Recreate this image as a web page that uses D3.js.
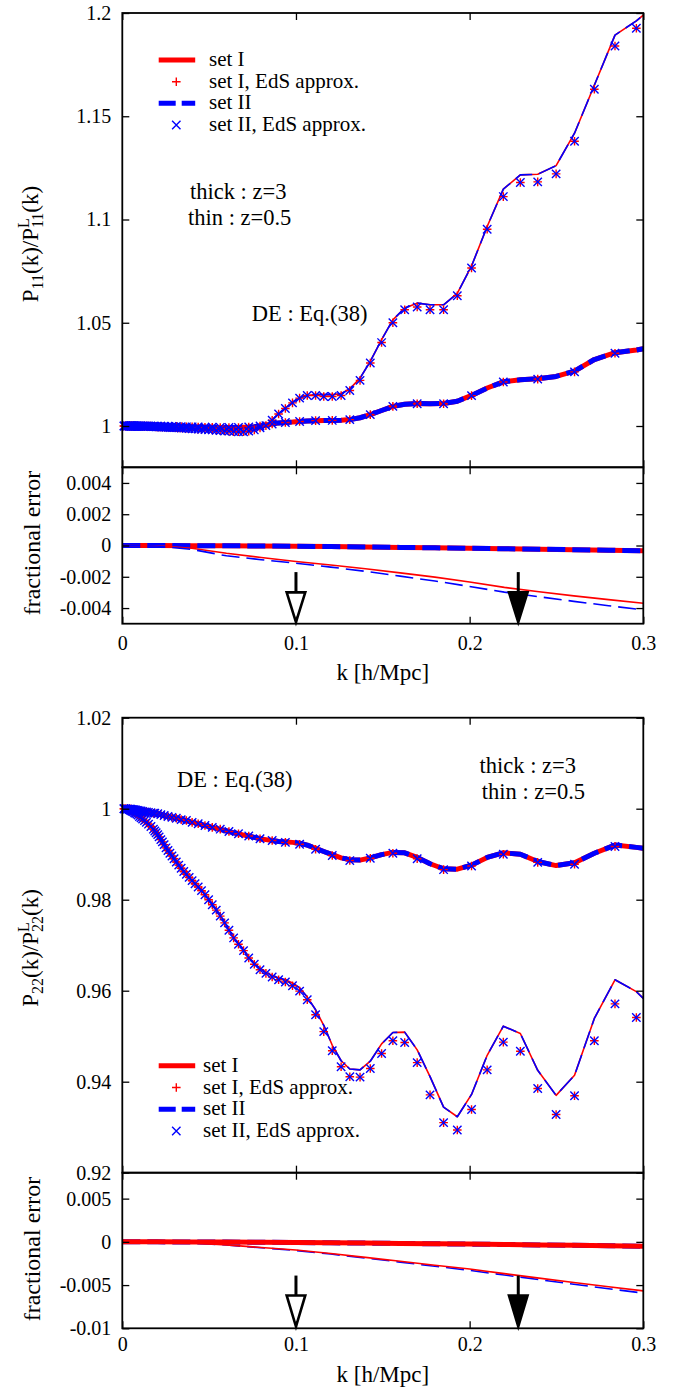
<!DOCTYPE html>
<html>
<head>
<meta charset="utf-8">
<script src="https://cdn.jsdelivr.net/npm/d3@7"></script>
<style>
  body { margin: 0; background: #fff; }
  svg { display: block; }
  svg text { font-family: "Liberation Serif", "Times New Roman", Times, "DejaVu Serif", serif !important; }
</style>
</head>
<body>
<svg id="chart" width="673" height="1391"></svg>
<script>
// ---------------------------------------------------------------
// Wavenumber grid k [h/Mpc] shared by all ratio curves and markers
// ---------------------------------------------------------------
const kGrid = [
  0.0010, 0.0020, 0.0030,
  0.0040, 0.0045, 0.0050, 0.0055, 0.0060, 0.0065, 0.0071, 0.0077, 0.0084, 0.0091,
  0.0099, 0.0108, 0.0117, 0.0128, 0.0139, 0.0151, 0.0165, 0.0179, 0.0187, 0.0195,
  0.0204, 0.0212, 0.0222, 0.0231, 0.0241, 0.0252, 0.0263, 0.0274, 0.0286, 0.0298,
  0.0311, 0.0325, 0.0339, 0.0354, 0.0369, 0.0385, 0.0402, 0.0419, 0.0437, 0.0456,
  0.0476, 0.0497, 0.0518, 0.0541, 0.0564, 0.0589, 0.0614, 0.0641, 0.0669, 0.0698,
  0.0728, 0.0760, 0.0793, 0.0827, 0.0863, 0.0900, 0.0939, 0.0980, 0.1021, 0.1065,
  0.1113, 0.1160, 0.1209, 0.1260, 0.1310, 0.1369, 0.1428, 0.1493, 0.1558, 0.1626,
  0.1698, 0.1772, 0.1850, 0.1929, 0.2011, 0.2101, 0.2194, 0.2292, 0.2392, 0.2498,
  0.2604, 0.2718, 0.2837, 0.2960, 0.3000
];

// P11(k)/P11^L(k), z = 3 (thick)
const p11Z3SetI = [
  1.0000, 1.0000, 1.0000,
  1.0000, 1.0000, 1.0000, 1.0000, 1.0000, 1.0000, 1.0000, 1.0000, 1.0000, 1.0000,
  1.0000, 1.0000, 1.0000, 1.0000, 1.0000, 1.0000, 1.0000, 0.9999, 0.9999, 0.9999,
  0.9999, 0.9999, 0.9999, 0.9999, 0.9999, 0.9999, 0.9999, 0.9999, 0.9998, 0.9998,
  0.9998, 0.9997, 0.9997, 0.9997, 0.9996, 0.9996, 0.9996, 0.9995, 0.9995, 0.9995,
  0.9994, 0.9994, 0.9994, 0.9993, 0.9993, 0.9993, 0.9993, 0.9993, 0.9993, 0.9994,
  0.9995, 0.9997, 1.0000, 1.0005, 1.0010, 1.0015, 1.0017, 1.0019, 1.0022, 1.0024,
  1.0026, 1.0027, 1.0027, 1.0028, 1.0031, 1.0040, 1.0055, 1.0075, 1.0095, 1.0105,
  1.0109, 1.0108, 1.0109, 1.0120, 1.0148, 1.0184, 1.0214, 1.0224, 1.0229, 1.0240,
  1.0266, 1.0322, 1.0355, 1.0368, 1.0374
];
// P11(k)/P11^L(k), z = 0.5 (thin)
const p11Z05SetI = [
  1.0000, 1.0000, 1.0000,
  1.0000, 1.0000, 1.0000, 1.0000, 1.0000, 1.0000, 0.9999, 0.9999, 0.9999, 0.9999,
  0.9999, 0.9999, 0.9998, 0.9998, 0.9998, 0.9998, 0.9997, 0.9997, 0.9997, 0.9996,
  0.9996, 0.9996, 0.9995, 0.9995, 0.9995, 0.9994, 0.9994, 0.9993, 0.9993, 0.9992,
  0.9992, 0.9991, 0.9990, 0.9990, 0.9989, 0.9988, 0.9987, 0.9986, 0.9985, 0.9984,
  0.9983, 0.9982, 0.9981, 0.9979, 0.9978, 0.9976, 0.9975, 0.9973, 0.9972, 0.9972,
  0.9975, 0.9981, 0.9991, 1.0004, 1.0030, 1.0060, 1.0087, 1.0115, 1.0136, 1.0148,
  1.0152, 1.0152, 1.0152, 1.0156, 1.0180, 1.0232, 1.0313, 1.0418, 1.0514, 1.0571,
  1.0595, 1.0587, 1.0587, 1.0642, 1.0775, 1.0966, 1.1147, 1.1216, 1.1219, 1.1261,
  1.1418, 1.1650, 1.1893, 1.1962, 1.1990
];
// set II coincides with set I at this resolution
const p11Z3SetII = p11Z3SetI;
const p11Z05SetII = p11Z05SetI;

// EdS-approximation points (null: no point drawn)
const p11Z3EdS = [
  1.0000, 1.0000, 1.0000,
  1.0000, 1.0000, 1.0000, 1.0000, 1.0000, 1.0000, 1.0000, 1.0000, 1.0000, 1.0000,
  1.0000, 1.0000, 1.0000, 1.0000, 1.0000, 1.0000, 1.0000, 0.9999, 0.9999, null,
  0.9999, null, 0.9999, null, 0.9999, null, 0.9999, null, 0.9998, null,
  0.9998, null, 0.9997, null, 0.9996, null, 0.9996, null, 0.9995, null,
  0.9994, null, 0.9994, null, 0.9993, null, 0.9993, null, 0.9993, null,
  0.9995, null, 1.0000, null, 1.0010, null, 1.0017, null, 1.0022, null,
  1.0026, null, 1.0027, null, 1.0031, null, 1.0055, null, 1.0095, null,
  1.0108, null, 1.0108, null, 1.0147, null, 1.0213, null, 1.0227, null,
  1.0262, null, 1.0352, null, null
];
const p11Z05EdS = [
  1.0000, 1.0000, 1.0000,
  1.0000, 1.0000, 1.0000, 1.0000, 1.0000, 1.0000, 0.9999, 0.9999, 0.9999, 0.9999,
  0.9999, 0.9999, 0.9998, 0.9998, 0.9998, 0.9998, 0.9997, 0.9997, 0.9997, 0.9996,
  0.9996, 0.9996, 0.9995, 0.9995, 0.9995, 0.9994, 0.9994, 0.9993, 0.9993, 0.9992,
  0.9992, 0.9991, 0.9990, 0.9990, 0.9989, 0.9988, 0.9987, 0.9986, 0.9985, 0.9984,
  0.9983, 0.9982, 0.9981, 0.9979, 0.9978, 0.9976, 0.9975, 0.9973, 0.9972, 0.9972,
  0.9975, 0.9981, 0.9991, 1.0002, 1.0028, 1.0058, 1.0085, 1.0112, 1.0135, 1.0148,
  1.0148, 1.0143, 1.0143, 1.0148, 1.0172, 1.0221, 1.0305, 1.0404, 1.0500, 1.0563,
  1.0576, 1.0563, 1.0563, 1.0631, 1.0765, 1.0953, 1.1111, 1.1179, 1.1182, 1.1221,
  1.1379, 1.1631, 1.1840, 1.1926, null
];

// P22(k)/P22^L(k), z = 3 (thick)
const p22Z3SetI = [
  1.0000, 1.0000, 0.9999,
  0.9999, 0.9999, 0.9999, 0.9998, 0.9998, 0.9998, 0.9997, 0.9997, 0.9996, 0.9996,
  0.9995, 0.9995, 0.9994, 0.9993, 0.9993, 0.9992, 0.9991, 0.9990, 0.9990, 0.9989,
  0.9989, 0.9988, 0.9987, 0.9986, 0.9985, 0.9984, 0.9983, 0.9982, 0.9981, 0.9980,
  0.9979, 0.9978, 0.9976, 0.9975, 0.9974, 0.9972, 0.9970, 0.9969, 0.9967, 0.9965,
  0.9963, 0.9961, 0.9959, 0.9957, 0.9955, 0.9952, 0.9950, 0.9947, 0.9945, 0.9942,
  0.9940, 0.9937, 0.9934, 0.9932, 0.9930, 0.9928, 0.9927, 0.9926, 0.9924, 0.9920,
  0.9913, 0.9906, 0.9899, 0.9892, 0.9888, 0.9887, 0.9892, 0.9899, 0.9904, 0.9903,
  0.9893, 0.9879, 0.9868, 0.9867, 0.9876, 0.9893, 0.9903, 0.9900, 0.9884, 0.9875,
  0.9881, 0.9902, 0.9920, 0.9915, 0.9913
];
// P22(k)/P22^L(k), z = 0.5 (thin)
const p22Z05SetI = [
  1.0000, 0.9999, 0.9999,
  0.9998, 0.9997, 0.9996, 0.9995, 0.9994, 0.9993, 0.9991, 0.9990, 0.9988, 0.9986,
  0.9983, 0.9980, 0.9977, 0.9974, 0.9970, 0.9966, 0.9961, 0.9955, 0.9951, 0.9947,
  0.9943, 0.9938, 0.9932, 0.9927, 0.9921, 0.9914, 0.9908, 0.9902, 0.9896, 0.9890,
  0.9883, 0.9876, 0.9869, 0.9862, 0.9856, 0.9849, 0.9842, 0.9835, 0.9828, 0.9821,
  0.9812, 0.9801, 0.9790, 0.9778, 0.9765, 0.9750, 0.9734, 0.9717, 0.9704, 0.9690,
  0.9674, 0.9660, 0.9649, 0.9640, 0.9633, 0.9628, 0.9624, 0.9617, 0.9606, 0.9586,
  0.9558, 0.9524, 0.9480, 0.9446, 0.9428, 0.9426, 0.9445, 0.9483, 0.9508, 0.9509,
  0.9470, 0.9411, 0.9344, 0.9323, 0.9372, 0.9458, 0.9522, 0.9506, 0.9425, 0.9370,
  0.9414, 0.9539, 0.9624, 0.9598, 0.9583
];
const p22Z3SetII = p22Z3SetI;
const p22Z05SetII = p22Z05SetI;

const p22Z3EdS = [
  1.0000, 1.0000, 0.9999,
  0.9999, 0.9999, 0.9999, 0.9998, 0.9998, 0.9998, 0.9997, 0.9997, 0.9996, 0.9996,
  0.9995, 0.9995, 0.9994, 0.9993, 0.9993, 0.9992, 0.9991, 0.9990, 0.9990, null,
  0.9989, null, 0.9987, null, 0.9985, null, 0.9983, null, 0.9981, null,
  0.9979, null, 0.9976, null, 0.9974, null, 0.9970, null, 0.9967, null,
  0.9963, null, 0.9959, null, 0.9955, null, 0.9950, null, 0.9945, null,
  0.9940, null, 0.9934, null, 0.9930, null, 0.9926, null, 0.9922, null,
  0.9911, null, 0.9897, null, 0.9886, null, 0.9891, null, 0.9902, null,
  0.9890, null, 0.9866, null, 0.9874, null, 0.9900, null, 0.9882, null,
  0.9878, null, 0.9917, null, null
];
const p22Z05EdS = [
  1.0000, 0.9999, 0.9999,
  0.9998, 0.9997, 0.9996, 0.9995, 0.9994, 0.9993, 0.9991, 0.9990, 0.9988, 0.9986,
  0.9983, 0.9980, 0.9977, 0.9974, 0.9970, 0.9966, 0.9961, 0.9955, 0.9951, 0.9947,
  0.9943, 0.9938, 0.9932, 0.9927, 0.9921, 0.9914, 0.9908, 0.9902, 0.9896, 0.9890,
  0.9883, 0.9876, 0.9869, 0.9862, 0.9856, 0.9849, 0.9842, 0.9835, 0.9828, 0.9820,
  0.9811, 0.9800, 0.9789, 0.9777, 0.9764, 0.9749, 0.9733, 0.9716, 0.9702, 0.9688,
  0.9672, 0.9658, 0.9646, 0.9638, 0.9630, 0.9624, 0.9619, 0.9611, 0.9599, 0.9580,
  0.9547, 0.9510, 0.9468, 0.9433, 0.9411, 0.9410, 0.9429, 0.9462, 0.9490, 0.9486,
  0.9442, 0.9371, 0.9310, 0.9294, 0.9339, 0.9426, 0.9487, 0.9467, 0.9385, 0.9328,
  0.9369, 0.9490, 0.9571, 0.9541, null
];

// Fractional error of the EdS approximation
const kErr = [0, 0.02, 0.04, 0.06, 0.08, 0.10, 0.12, 0.14, 0.16, 0.18, 0.20, 0.22, 0.24, 0.26, 0.28, 0.30];
const err11Z3SetI   = [0, 0, -0.00001, -0.00002, -0.00003, -0.00005, -0.00007, -0.00009, -0.00012, -0.00015, -0.00018, -0.00021, -0.00024, -0.00027, -0.00030, -0.00033];
const err11Z3SetII  = [0, 0, -0.00001, -0.00002, -0.00003, -0.00005, -0.00007, -0.00009, -0.00012, -0.00015, -0.00018, -0.00021, -0.00024, -0.00027, -0.00030, -0.00034];
const err11Z05SetI  = [0, -0.00002, -0.00018, -0.00050, -0.00077, -0.00102, -0.00125, -0.00149, -0.00175, -0.00202, -0.00233, -0.00268, -0.00296, -0.00322, -0.00346, -0.00369];
const err11Z05SetII = [0, -0.00003, -0.00025, -0.00066, -0.00091, -0.00113, -0.00138, -0.00165, -0.00196, -0.00227, -0.00262, -0.00298, -0.00328, -0.00357, -0.00385, -0.00412];
const err22Z3SetI   = [0, 0, -0.00001, -0.00003, -0.00005, -0.00008, -0.00011, -0.00014, -0.00018, -0.00022, -0.00026, -0.00030, -0.00035, -0.00040, -0.00045, -0.00050];
const err22Z3SetII  = [0, 0, -0.00001, -0.00003, -0.00005, -0.00008, -0.00011, -0.00014, -0.00018, -0.00022, -0.00026, -0.00030, -0.00035, -0.00040, -0.00045, -0.00051];
const err22Z05SetI  = [0, -0.00002, -0.00012, -0.00035, -0.00065, -0.00095, -0.00135, -0.00180, -0.00225, -0.00270, -0.00314, -0.00368, -0.00420, -0.00470, -0.00519, -0.00567];
const err22Z05SetII = [0, -0.00002, -0.00013, -0.00037, -0.00068, -0.00100, -0.00141, -0.00187, -0.00234, -0.00282, -0.00330, -0.00384, -0.00437, -0.00490, -0.00542, -0.00593];

// Ticks and labels
const xTicks = [0, 0.1, 0.2, 0.3];
const xTickLabels = ["0", "0.1", "0.2", "0.3"];
const yTicksP11 = [1, 1.05, 1.1, 1.15, 1.2];
const yLabelsP11 = ["1", "1.05", "1.1", "1.15", "1.2"];
const yTicksE11 = [-0.004, -0.002, 0, 0.002, 0.004];
const yLabelsE11 = ["-0.004", "-0.002", "0", "0.002", "0.004"];
const yTicksP22 = [0.92, 0.94, 0.96, 0.98, 1, 1.02];
const yLabelsP22 = ["0.92", "0.94", "0.96", "0.98", "1", "1.02"];
const yTicksE22 = [-0.01, -0.005, 0, 0.005];
const yLabelsE22 = ["-0.01", "-0.005", "0", "0.005"];

// Scale-dependence markers (arrows) at these k
const arrowK = [0.1, 0.228];
const arrowFilled = [false, true];

const legendLabels = ["set I", "set I, EdS approx.", "set II", "set II, EdS approx."];

// ---------------------------------------------------------------
const FONT = "Liberation Serif";
const RED = "#ff0000", BLUE = "#0000ff";
const THICK = 5, THIN = 1.6, DASH = "18,7";
const MARK_W = 1.4;
const PLUS = "M-4.3,0H4.3M0,-4.3V4.3";
const CROSS = "M-4.2,-4.2L4.2,4.2M-4.2,4.2L4.2,-4.2";

const svg = d3.select("#chart");
const x = d3.scaleLinear().domain([0, 0.3]).range([122.3, 643.3]);

const yP11 = d3.scaleLinear().domain([0.98, 1.2]).range([467.3, 13]);
const yE11 = d3.scaleLinear().domain([-0.005, 0.005]).range([623.7, 467.3]);
const yP22 = d3.scaleLinear().domain([0.92, 1.02]).range([1172.7, 717.7]);
const yE22 = d3.scaleLinear().domain([-0.01, 0.008]).range([1328.3, 1172.7]);

const layer = svg.append("g");

function curve(y, ks, vals, color, width, dash) {
  const line = d3.line()
    .defined(d => d[1] != null)
    .x(d => x(d[0]))
    .y(d => y(d[1]));
  layer.append("path")
    .datum(ks.map((k, i) => [k, vals[i]]))
    .attr("d", line)
    .attr("fill", "none")
    .attr("stroke", color)
    .attr("stroke-width", width)
    .attr("stroke-linejoin", "round")
    .attr("stroke-dasharray", dash || null);
}

function points(y, vals, shape, color) {
  layer.append("g")
    .selectAll("path")
    .data(kGrid.map((k, i) => [k, vals[i]]).filter(d => d[1] != null))
    .join("path")
    .attr("transform", d => `translate(${x(d[0])},${y(d[1])})`)
    .attr("d", shape)
    .attr("fill", "none")
    .attr("stroke", color)
    .attr("stroke-width", MARK_W);
}

function frame(y, yTicks, yLabels, withXLabels, xPad) {
  const g = svg.append("g");
  const [x0, x1] = x.range();
  const [yb, yt] = y.range();
  g.append("g").attr("transform", `translate(${x0},0)`)
    .call(d3.axisLeft(y).tickValues(yTicks).tickSize(-7).tickPadding(11)
      .tickFormat((d, i) => yLabels[i]));
  g.append("g").attr("transform", `translate(${x1},0)`)
    .call(d3.axisRight(y).tickValues(yTicks).tickSize(-7).tickFormat(""));
  g.append("g").attr("transform", `translate(0,${yt})`)
    .call(d3.axisTop(x).tickValues(xTicks).tickSize(-7).tickFormat(""));
  g.append("g").attr("transform", `translate(0,${yb})`)
    .call(d3.axisBottom(x).tickValues(xTicks).tickSize(-7).tickPadding(xPad || 0)
      .tickFormat((d, i) => withXLabels ? xTickLabels[i] : ""));
  g.selectAll(".domain").remove();
  g.selectAll("g").attr("font-family", null);
  g.selectAll(".tick line").attr("stroke", "#000").attr("stroke-width", 1.3);
  g.selectAll(".tick text")
    .style("font-family", FONT).attr("font-size", 20).attr("fill", "#000");
  g.append("rect")
    .attr("x", x0).attr("y", yt).attr("width", x1 - x0).attr("height", yb - yt)
    .attr("fill", "none").attr("stroke", "#000").attr("stroke-width", 1.8);
}

function ratioPanel(y, z3I, z05I, z3II, z05II, z3EdS, z05EdS) {
  curve(y, kGrid, z3I, RED, THICK);
  curve(y, kGrid, z05I, RED, THIN);
  curve(y, kGrid, z3II, BLUE, THICK, DASH);
  curve(y, kGrid, z05II, BLUE, THIN, DASH);
  points(y, z3EdS, PLUS, RED);
  points(y, z05EdS, PLUS, RED);
  points(y, z3EdS, CROSS, BLUE);
  points(y, z05EdS, CROSS, BLUE);
}

function arrows(y, from, head, tip) {
  arrowK.forEach((k, i) => {
    const cx = x(k);
    layer.append("line")
      .attr("x1", cx).attr("x2", cx).attr("y1", y(from)).attr("y2", y(head))
      .attr("stroke", "#000").attr("stroke-width", 3);
    layer.append("path")
      .attr("d", `M${cx - 9.3},${y(head)}L${cx + 9.3},${y(head)}L${cx},${y(tip)}Z`)
      .attr("fill", arrowFilled[i] ? "#000" : "#fff")
      .attr("stroke", "#000").attr("stroke-width", 2.6)
      .attr("stroke-linejoin", "miter");
  });
}

function label(txt, x0, y0, size) {
  svg.append("text").attr("x", x0).attr("y", y0)
    .style("font-family", FONT).attr("font-size", size).attr("fill", "#000")
    .text(txt);
}

function legend(lineX0, lineX1, markX, textX, baselines) {
  const g = svg.append("g");
  const cy = baselines.map(b => b - 6);
  g.append("line").attr("x1", lineX0).attr("x2", lineX1).attr("y1", cy[0]).attr("y2", cy[0])
    .attr("stroke", RED).attr("stroke-width", THICK);
  g.append("path").attr("transform", `translate(${markX},${cy[1]})`).attr("d", PLUS)
    .attr("stroke", RED).attr("stroke-width", MARK_W).attr("fill", "none");
  g.append("line").attr("x1", lineX0).attr("x2", lineX1).attr("y1", cy[2]).attr("y2", cy[2])
    .attr("stroke", BLUE).attr("stroke-width", THICK).attr("stroke-dasharray", "17,6");
  g.append("path").attr("transform", `translate(${markX},${cy[3]})`).attr("d", CROSS)
    .attr("stroke", BLUE).attr("stroke-width", MARK_W).attr("fill", "none");
  legendLabels.forEach((t, i) => {
    g.append("text").attr("x", textX).attr("y", baselines[i])
      .style("font-family", FONT).attr("font-size", 21).attr("fill", "#000").text(t);
  });
}

function ratioTitle(cx, cy, idx) {
  const t = svg.append("text")
    .attr("transform", `translate(${cx},${cy}) rotate(-90)`)
    .attr("text-anchor", "middle")
    .style("font-family", FONT).attr("font-size", 23).attr("fill", "#000");
  t.append("tspan").text("P");
  t.append("tspan").attr("font-size", 16).attr("dy", 5).text(idx);
  t.append("tspan").attr("dy", -5).text("(k)/P");
  t.append("tspan").attr("font-size", 16).attr("dy", -9).text("L");
  t.append("tspan").attr("font-size", 16).attr("dx", -9.8).attr("dy", 14).text(idx);
  t.append("tspan").attr("dy", -5).text("(k)");
}

function vTitle(txt, cx, cy, size) {
  svg.append("text")
    .attr("transform", `translate(${cx},${cy}) rotate(-90)`)
    .attr("text-anchor", "middle")
    .style("font-family", FONT).attr("font-size", size).attr("fill", "#000")
    .text(txt);
}

function xTitle(y0) {
  svg.append("text").attr("x", 382.8).attr("y", y0).attr("text-anchor", "middle")
    .style("font-family", FONT).attr("font-size", 23).attr("fill", "#000").text("k [h/Mpc]");
}

// ---------------- upper figure: P11 ----------------
ratioPanel(yP11, p11Z3SetI, p11Z05SetI, p11Z3SetII, p11Z05SetII, p11Z3EdS, p11Z05EdS);
curve(yE11, kErr, err11Z3SetI, RED, THICK);
curve(yE11, kErr, err11Z3SetII, BLUE, THICK, DASH);
curve(yE11, kErr, err11Z05SetI, RED, THIN);
curve(yE11, kErr, err11Z05SetII, BLUE, THIN, DASH);
arrows(yE11, -0.0017, -0.0030, -0.0049);
frame(yP11, yTicksP11, yLabelsP11, false);
frame(yE11, yTicksE11, yLabelsE11, true, 12);

legend(158.7, 195.2, 176.3, 209, [66, 87.7, 109.3, 131]);
label("thick : z=3", 190, 199.3, 22.5);
label("thin : z=0.5", 188, 225, 22.5);
label("DE : Eq.(38)", 251.8, 320.7, 22.5);
ratioTitle(38, 244, "11");
vTitle("fractional error", 40, 543, 24);
xTitle(680);

// ---------------- lower figure: P22 ----------------
ratioPanel(yP22, p22Z3SetI, p22Z05SetI, p22Z3SetII, p22Z05SetII, p22Z3EdS, p22Z05EdS);
curve(yE22, kErr, err22Z3SetII, BLUE, THICK, DASH);
curve(yE22, kErr, err22Z05SetII, BLUE, THIN, DASH);
curve(yE22, kErr, err22Z3SetI, RED, THICK);
curve(yE22, kErr, err22Z05SetI, RED, THIN);
arrows(yE22, -0.0039, -0.0062, -0.0098);
frame(yP22, yTicksP22, yLabelsP22, false);
frame(yE22, yTicksE22, yLabelsE22, true, 9);

legend(158.7, 195.2, 176.3, 203, [1071.7, 1093.5, 1115.3, 1137]);
label("DE : Eq.(38)", 177, 787, 22.5);
label("thick : z=3", 479.6, 773, 22.5);
label("thin : z=0.5", 481.8, 799, 22.5);
ratioTitle(38, 948, "22");
vTitle("fractional error", 40, 1249, 24);
xTitle(1382);
</script>
</body>
</html>
